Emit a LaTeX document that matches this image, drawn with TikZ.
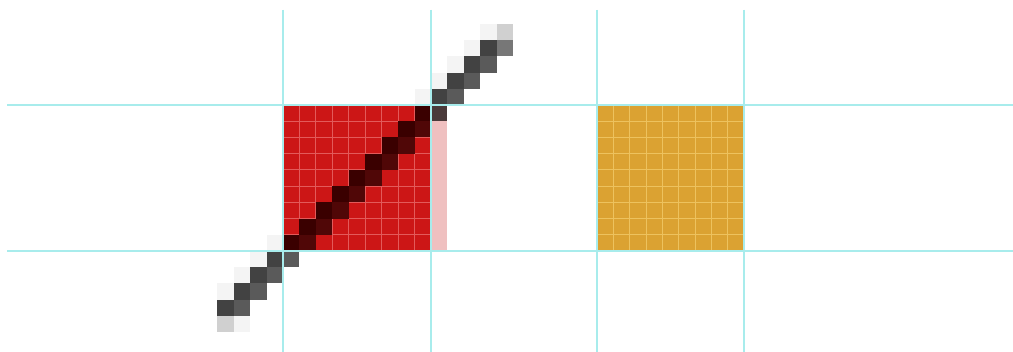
\documentclass[tikz,border=0pt]{standalone}
\definecolor{sqred}{HTML}{CC1616}
\definecolor{sqorange}{HTML}{DBA232}
\definecolor{redgrid}{HTML}{E35A5A}
\definecolor{orgrid}{HTML}{EDC25E}
\definecolor{pinkcol}{HTML}{EFC0C0}
\definecolor{darkA}{HTML}{3A0000}
\definecolor{darkB}{HTML}{500707}
\definecolor{grayA}{HTML}{424242}
\definecolor{grayB}{HTML}{5A5A5A}
\definecolor{grayC}{HTML}{777777}
\definecolor{grayL}{HTML}{D0D0D0}
\definecolor{grayF}{HTML}{F4F4F4}
\definecolor{mixdark}{HTML}{4A3A3A}
\definecolor{guide}{HTML}{A8ECEC}
\newcommand{\pxcell}[3]{\fill[#3] ({283+(#1)*16.444},{105+(#2)*16.222}) rectangle ++(16.444,16.222);}
\tikzset{guideline/.style={guide,line width=1.8pt},
  redgridline/.style={redgrid,line width=0.9pt},
  orgridline/.style={orgrid,line width=0.9pt}}
\begin{document}
\begin{tikzpicture}[x=1pt,y=-1pt]
\useasboundingbox (0,0) rectangle (1013,352);
\fill[white] (0,0) rectangle (1013,352);
% red square
\fill[sqred] (283,105) rectangle (431,251);
\foreach \i in {1,...,8} {
  \draw[redgridline] ({283+\i*16.444},105) -- ({283+\i*16.444},251);
  \draw[redgridline] (283,{105+\i*16.222}) -- (431,{105+\i*16.222});
}
% pink column
\fill[pinkcol] (431,{105+16.222}) rectangle (447.4,251);
% orange square
\fill[sqorange] (597,105) rectangle (744,251);
\foreach \i in {1,...,8} {
  \draw[orgridline] ({597+\i*16.333},105) -- ({597+\i*16.333},251);
  \draw[orgridline] (597,{105+\i*16.222}) -- (744,{105+\i*16.222});
}
% diagonal inside the square
\pxcell{8}{0}{darkA}
\pxcell{9}{0}{mixdark}
\foreach \r in {1,...,8} {
  \pgfmathtruncatemacro{\c}{8-\r}
  \pxcell{\c}{\r}{darkA}
  \pxcell{\c+1}{\r}{darkB}
}
% lower-left tail
\pxcell{-1}{8}{grayF}
\pxcell{-2}{9}{grayF}
\pxcell{-1}{9}{grayA}
\pxcell{0}{9}{grayB}
\pxcell{-3}{10}{grayF}
\pxcell{-2}{10}{grayA}
\pxcell{-1}{10}{grayB}
\pxcell{-4}{11}{grayF}
\pxcell{-3}{11}{grayA}
\pxcell{-2}{11}{grayB}
\pxcell{-4}{12}{grayA}
\pxcell{-3}{12}{grayB}
\pxcell{-4}{13}{grayL}
\pxcell{-3}{13}{grayF}
% upper-right tail
\pxcell{8}{-1}{grayF}
\pxcell{9}{-1}{grayA}
\pxcell{10}{-1}{grayB}
\pxcell{9}{-2}{grayF}
\pxcell{10}{-2}{grayA}
\pxcell{11}{-2}{grayB}
\pxcell{10}{-3}{grayF}
\pxcell{11}{-3}{grayA}
\pxcell{12}{-3}{grayB}
\pxcell{11}{-4}{grayF}
\pxcell{12}{-4}{grayA}
\pxcell{13}{-4}{grayC}
\pxcell{12}{-5}{grayF}
\pxcell{13}{-5}{grayL}
% guide lines
\draw[guideline] (7,105) -- (1013,105);
\draw[guideline] (7,251) -- (1013,251);
\foreach \x in {283,431,597,744} {
  \draw[guideline] (\x,10) -- (\x,352);
}
\end{tikzpicture}
\end{document}
